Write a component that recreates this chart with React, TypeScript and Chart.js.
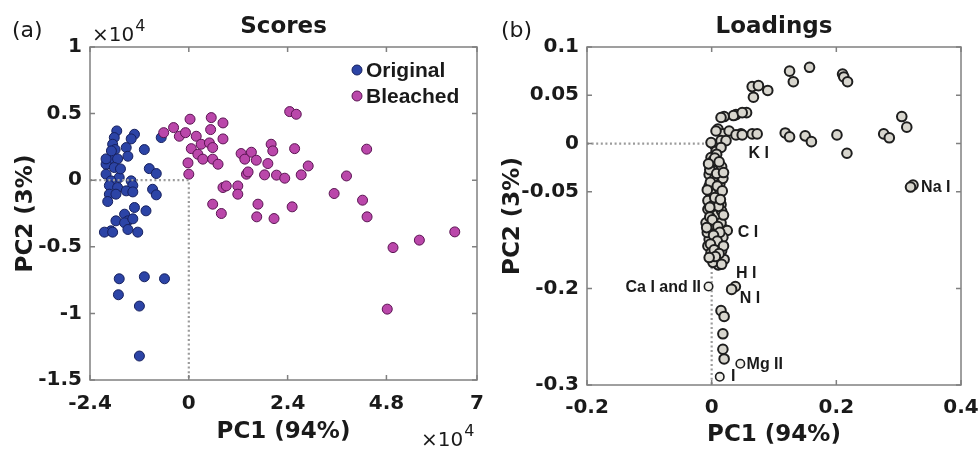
import React, { useEffect, useRef } from 'react';
import { Chart, registerables } from 'chart.js';

Chart.register(...registerables);

// ---------------- data ----------------
const scoresXTicks = [-24000, 0, 24000, 48000, 70000];
const scoresYTicks = [-15000, -10000, -5000, 0, 5000, 10000];
const loadingsXTicks = [-0.2, 0, 0.2, 0.4];
const loadingsYTicks = [-0.25, -0.15, -0.05, 0, 0.05, 0.1];
const loadingsYTickLabels = ['-0.3', '-0.2', '-0.05', '0', '0.05', '0.1'];

const scoresSeriesNames = ['Original', 'Bleached'];

const originalScores: [number, number][] = [
  [-17500, 3700], [-18100, 3200], [-18500, 2700], [-17900, 2300], [-13200, 3450], [-14000, 3100],
  [-15200, 2450], [-14800, 1800], [-10800, 2300], [-19300, 1600], [-17300, 1600], [-20100, 1200],
  [-18100, 950], [-9600, 870], [-7900, 500], [-20100, 450], [-16900, 200], [-18900, -50],
  [-14000, -50], [-19300, -400], [-17300, -550], [-13600, -400], [-15200, -800], [-13600, -880],
  [-8800, -680], [-19300, -1050], [-17700, -1050], [-7900, -1100], [-19700, -1600], [-13200, -2050],
  [-10400, -2300], [-15600, -2550], [-17700, -3050], [-14800, -3050], [-15600, -3200], [-13600, -2900],
  [-18900, -3800], [-20500, -3900], [-14800, -3700], [-12400, -3900], [-6700, 3200], [-16900, -7400],
  [-10800, -7250], [-5900, -7400], [-17100, -8600], [-12000, -9450], [-12000, -13200], [-18500, -3900],
  [-20100, 1600], [-16600, 850], [-18800, 2200],
];

const bleachedScores: [number, number][] = [
  [-6100, 3570], [-3700, 3950], [-2300, 3300], [-800, 3570], [300, 4580], [5450, 4700], [8300, 4300],
  [1800, 3300], [5300, 3800], [8300, 3100], [600, 2370], [3000, 2700], [5000, 2800], [5800, 2450],
  [2200, 1950], [3400, 1580], [5800, 1580], [7100, 1200], [-200, 1300], [0, 450], [24500, 5150],
  [26100, 4950], [20000, 2700], [20400, 2200], [25700, 2370], [43200, 2330], [12700, 2000], [15200, 2100],
  [13600, 1580], [16400, 1500], [19200, 1250], [14000, 450], [14400, 620], [18400, 400], [21300, 380],
  [23300, 150], [27300, 400], [29000, 1070], [38300, 320], [8300, -550], [9100, -430], [11900, -430],
  [11900, -1050], [35300, -1000], [42200, -1500], [5800, -1800], [16800, -1800], [25100, -2000],
  [7900, -2500], [16500, -2750], [20700, -2880], [43300, -2750], [49600, -5060], [56000, -4500],
  [64600, -3880], [48200, -9680],
];

const scoresRefLine: [number, number][] = [[-24000, 0], [0, 0], [0, -15000]];

const loadings: [number, number][] = [
  [0.125, 0.075], [0.131, 0.064], [0.157, 0.079], [0.21, 0.072], [0.212, 0.069], [0.218, 0.064],
  [0.065, 0.059], [0.075, 0.06], [0.09, 0.055], [0.067, 0.048], [0.056, 0.032], [0.118, 0.011],
  [0.125, 0.007], [0.15, 0.008], [0.16, 0.002], [0.201, 0.009], [0.217, -0.01], [0.276, 0.01],
  [0.285, 0.006], [0.305, 0.028], [0.313, 0.017], [0.323, -0.043], [0.319, -0.045],
  [0.047, 0.01], [0.065, 0.01], [0.073, 0.01], [0.039, 0.03], [0.035, 0.029], [0.049, 0.032],
  [0.02, 0.028], [0.015, 0.027], [0.01, 0.015], [0.018, 0.01], [0.028, 0.013], [0.039, 0.009],
  [0.049, 0.009], [0.007, 0.013], [0.004, -0.001], [0.007, -0.008], [0.015, 0.003], [0.023, 0.003],
  [0.015, -0.004], [-0.001, 0.001],
  [-0.001, -0.0145], [0.002, -0.023], [-0.004, -0.032], [0.004, -0.039], [-0.004, -0.044], [0.01, -0.047],
  [-0.001, -0.054], [0.007, -0.059], [0.015, -0.063], [-0.006, -0.068], [0.004, -0.071], [0.012, -0.077],
  [-0.009, -0.082], [0.02, -0.089], [0.002, -0.089], [0.007, -0.092], [-0.004, -0.099], [0.012, -0.097],
  [-0.006, -0.106], [0.015, -0.104], [-0.001, -0.113], [0.01, -0.12], [0.02, -0.12], [0.025, -0.09],
  [0.0105, -0.1256], [0.002, -0.123], [0.002, -0.018], [0.01, -0.028], [0.005, -0.036], [0.013, -0.042],
  [0.002, -0.05], [0.013, -0.052], [-0.006, -0.059], [0.002, -0.064], [0.008, -0.074], [-0.003, -0.076],
  [0.015, -0.082], [0.004, -0.084], [-0.007, -0.092], [0.016, -0.111], [0.007, -0.108], [0.008, -0.011],
  [0.016, -0.024], [-0.003, -0.027], [0.018, -0.036], [0.016, -0.07], [0.018, -0.097],
  [0.005, -0.015], [0.012, -0.019], [-0.005, -0.021], [0.008, -0.031], [-0.002, -0.04], [0.009, -0.044],
  [0.017, -0.049], [-0.007, -0.048], [0.005, -0.056], [0.011, -0.065], [-0.003, -0.066], [0.019, -0.074],
  [0.001, -0.079], [0.01, -0.086], [-0.008, -0.087], [0.013, -0.092], [0.003, -0.095], [0.009, -0.101],
  [-0.002, -0.104], [0.019, -0.106], [0.004, -0.11], [0.012, -0.114], [0.006, -0.117], [0.016, -0.125],
  [-0.004, -0.118], [0.014, -0.058], [0.019, -0.03],
  [0.038, -0.148], [0.032, -0.151], [0.015, -0.173], [0.02, -0.179], [0.018, -0.197], [0.018, -0.213],
  [0.02, -0.223],
];

const loadingsHollow: [number, number][] = [[-0.005, -0.148], [0.046, -0.228], [0.013, -0.2415]];

const loadingsRefLine: [number, number][] = [[-0.2, 0], [0, 0], [0, -0.25]];

const annotationText = ['K I', 'Na I', 'C I', 'H I', 'Ca I and II', 'N I', 'Mg II', 'I'];
const annotationAt: [number, number][] = [
  [0.059, -0.0107], [0.336, -0.046], [0.042, -0.092], [0.039, -0.1346],
  [-0.017, -0.149], [0.045, -0.161], [0.056, -0.229], [0.031, -0.2415],
];
const annotationAlign: CanvasTextAlign[] = ['left', 'left', 'left', 'left', 'right', 'left', 'left', 'left'];

// ---------------- styling ----------------
const SANS = '"DejaVu Sans"';
const ARIAL = '"Liberation Sans", Arial';
const TICK_FONT = { family: 'DejaVu Sans', size: 20, weight: 'bold' as const };
const TEXT = '#1a1a1a';
const FRAME = '#808080';
const BLUE = { fill: '#2C44A6', stroke: '#16205E' };
const PINK = { fill: '#BA47AA', stroke: '#5A1452' };

const toXY = (arr: [number, number][]) => arr.map(([x, y]) => ({ x, y }));
const fmt = (v: number) => String(Math.round(v * 1000) / 1000);

function axis(min: number, max: number, values: number[], label: (v: number) => string,
  fit: (s: any) => void, pad: number) {
  return {
    type: 'linear' as const,
    min,
    max,
    afterBuildTicks: (s: any) => {
      s.ticks = values.map((v) => ({ value: v }));
    },
    afterFit: fit,
    grid: { display: false, drawTicks: false },
    border: { display: false },
    ticks: {
      autoSkip: false,
      maxRotation: 0,
      minRotation: 0,
      padding: pad,
      color: TEXT,
      font: TICK_FONT,
      callback: (v: any) => label(Number(v)),
    },
  };
}

function txt(ctx: CanvasRenderingContext2D, s: string, x: number, y: number, font: string,
  align: CanvasTextAlign = 'center', baseline: CanvasTextBaseline = 'middle', color = TEXT) {
  ctx.font = font;
  ctx.textAlign = align;
  ctx.textBaseline = baseline;
  ctx.fillStyle = color;
  ctx.fillText(s, x, y);
}

function exponent(ctx: CanvasRenderingContext2D, x: number, baseline: number) {
  txt(ctx, '\u00d710', x, baseline, `20px ${SANS}`, 'left', 'alphabetic');
  const w = ctx.measureText('\u00d710').width;
  txt(ctx, '4', x + w + 1, baseline - 10, `16px ${SANS}`, 'left', 'alphabetic');
}

function frame(chart: any) {
  const { ctx, chartArea: a, scales } = chart;
  ctx.save();
  ctx.strokeStyle = FRAME;
  ctx.lineWidth = 1.5;
  ctx.strokeRect(a.left, a.top, a.right - a.left, a.bottom - a.top);
  const L = 5;
  ctx.beginPath();
  scales.x.ticks.forEach((t: any) => {
    const p = scales.x.getPixelForValue(t.value);
    ctx.moveTo(p, a.bottom); ctx.lineTo(p, a.bottom - L);
    ctx.moveTo(p, a.top); ctx.lineTo(p, a.top + L);
  });
  scales.y.ticks.forEach((t: any) => {
    const p = scales.y.getPixelForValue(t.value);
    ctx.moveTo(a.left, p); ctx.lineTo(a.left + L, p);
    ctx.moveTo(a.right, p); ctx.lineTo(a.right - L, p);
  });
  ctx.stroke();
  ctx.restore();
}

function axisTitles(ctx: CanvasRenderingContext2D, a: any, xTitleY: number, yTitleX: number) {
  const cx = (a.left + a.right) / 2;
  const cy = (a.top + a.bottom) / 2;
  txt(ctx, 'PC1 (94%)', cx, xTitleY, `bold 23px ${SANS}`);
  ctx.save();
  ctx.translate(yTitleX, cy);
  ctx.rotate(-Math.PI / 2);
  txt(ctx, 'PC2 (3%)', 0, 0, `bold 23px ${SANS}`);
  ctx.restore();
}

function fitX(height: number, right: number) {
  return (s: any) => {
    s.height = height;
    s.paddingLeft = 0;
    s.paddingRight = right;
  };
}
function fitY(width: number) {
  return (s: any) => {
    s.width = width;
    s.paddingTop = 0;
    s.paddingBottom = 0;
  };
}

// ---------------- scores chart ----------------
function scoresConfig(): any {
  const decor = {
    id: 'scoresDecor',
    afterDraw(chart: any) {
      const { ctx, chartArea: a } = chart;
      frame(chart);
      ctx.save();
      txt(ctx, '(a)', 12, 31, `22px ${SANS}`, 'left');
      exponent(ctx, 92, 41);
      txt(ctx, 'Scores', (a.left + a.right) / 2, 27, `bold 23px ${SANS}`);
      axisTitles(ctx, a, 432, 26);
      exponent(ctx, 421, 446);
      const styles = [BLUE, PINK];
      scoresSeriesNames.forEach((name, i) => {
        const y = 70 + i * 26;
        ctx.beginPath();
        ctx.arc(357, y, 5, 0, Math.PI * 2);
        ctx.fillStyle = styles[i].fill;
        ctx.fill();
        ctx.lineWidth = 1;
        ctx.strokeStyle = styles[i].stroke;
        ctx.stroke();
        txt(ctx, name, 366, y + 1, `bold 21px ${ARIAL}`, 'left');
      });
      ctx.restore();
    },
  };
  return {
    type: 'scatter',
    data: {
      datasets: [
        {
          label: 'ref',
          data: toXY(scoresRefLine),
          showLine: true,
          pointRadius: 0,
          borderColor: '#9b9b9b',
          borderWidth: 2.2,
          borderDash: [2, 2.6],
          order: 0,
        },
        {
          label: scoresSeriesNames[1],
          data: toXY(bleachedScores),
          pointRadius: 5,
          borderWidth: 1,
          backgroundColor: PINK.fill,
          borderColor: PINK.stroke,
          order: 1,
        },
        {
          label: scoresSeriesNames[0],
          data: toXY(originalScores),
          pointRadius: 5,
          borderWidth: 1,
          backgroundColor: BLUE.fill,
          borderColor: BLUE.stroke,
          order: 2,
        },
      ],
    },
    options: {
      responsive: false,
      animation: false,
      layout: { padding: { top: 47, right: 0, left: 0, bottom: 0 } },
      plugins: { legend: { display: false }, tooltip: { enabled: false }, title: { display: false } },
      scales: {
        x: axis(-24000, 70000, scoresXTicks, (v) => fmt(v / 10000), fitX(72, 13), 12),
        y: axis(-15000, 10000, scoresYTicks, (v) => fmt(v / 10000), fitY(90), 8),
      },
    },
    plugins: [decor],
  };
}

// ---------------- loadings chart ----------------
function loadingsConfig(): any {
  const decor = {
    id: 'loadingsDecor',
    afterDraw(chart: any) {
      const { ctx, chartArea: a, scales } = chart;
      frame(chart);
      ctx.save();
      txt(ctx, '(b)', 11, 31, `22px ${SANS}`, 'left');
      txt(ctx, 'Loadings', (a.left + a.right) / 2, 27, `bold 23px ${SANS}`);
      axisTitles(ctx, a, 435, 23);
      annotationText.forEach((s, i) => {
        const [vx, vy] = annotationAt[i];
        txt(ctx, s, scales.x.getPixelForValue(vx), scales.y.getPixelForValue(vy), `bold 16px ${ARIAL}`, annotationAlign[i]);
      });
      ctx.restore();
    },
  };
  return {
    type: 'scatter',
    data: {
      datasets: [
        {
          label: 'hollow',
          data: toXY(loadingsHollow),
          pointRadius: 4.2,
          borderWidth: 1.6,
          backgroundColor: '#F2F1EC',
          borderColor: '#1e1e1e',
          order: 0,
        },
        {
          label: 'loadings',
          data: toXY(loadings),
          pointRadius: 4.8,
          borderWidth: 2,
          backgroundColor: '#D8D6CE',
          borderColor: '#1e1e1e',
          order: 1,
        },
        {
          label: 'ref',
          data: toXY(loadingsRefLine),
          showLine: true,
          pointRadius: 0,
          borderColor: '#9b9b9b',
          borderWidth: 2.2,
          borderDash: [2, 2.6],
          order: 2,
        },
      ],
    },
    options: {
      responsive: false,
      animation: false,
      layout: { padding: { top: 47, right: 0, left: 0, bottom: 0 } },
      plugins: { legend: { display: false }, tooltip: { enabled: false }, title: { display: false } },
      scales: {
        x: axis(-0.2, 0.4, loadingsXTicks, (v) => fmt(v), fitX(67, 18), 11),
        y: axis(-0.25, 0.1, loadingsYTicks, (v) => loadingsYTickLabels[loadingsYTicks.indexOf(v)] ?? '', fitY(97), 8),
      },
    },
    plugins: [decor],
  };
}

function Panel({ left, width, makeConfig }: { left: number; width: number; makeConfig: () => any }) {
  const ref = useRef<HTMLCanvasElement>(null);
  useEffect(() => {
    const chart = new Chart(ref.current as HTMLCanvasElement, makeConfig());
    return () => chart.destroy();
  }, [makeConfig]);
  return (
    <canvas
      ref={ref}
      width={width}
      height={452}
      style={{ position: 'absolute', left, top: 0, width, height: 452 }}
    />
  );
}

export default function App() {
  return (
    <div style={{ position: 'absolute', left: 0, top: 0, width: 979, height: 452, background: '#fff', overflow: 'hidden' }}>
      <Panel left={0} width={490} makeConfig={scoresConfig} />
      <Panel left={490} width={489} makeConfig={loadingsConfig} />
    </div>
  );
}
